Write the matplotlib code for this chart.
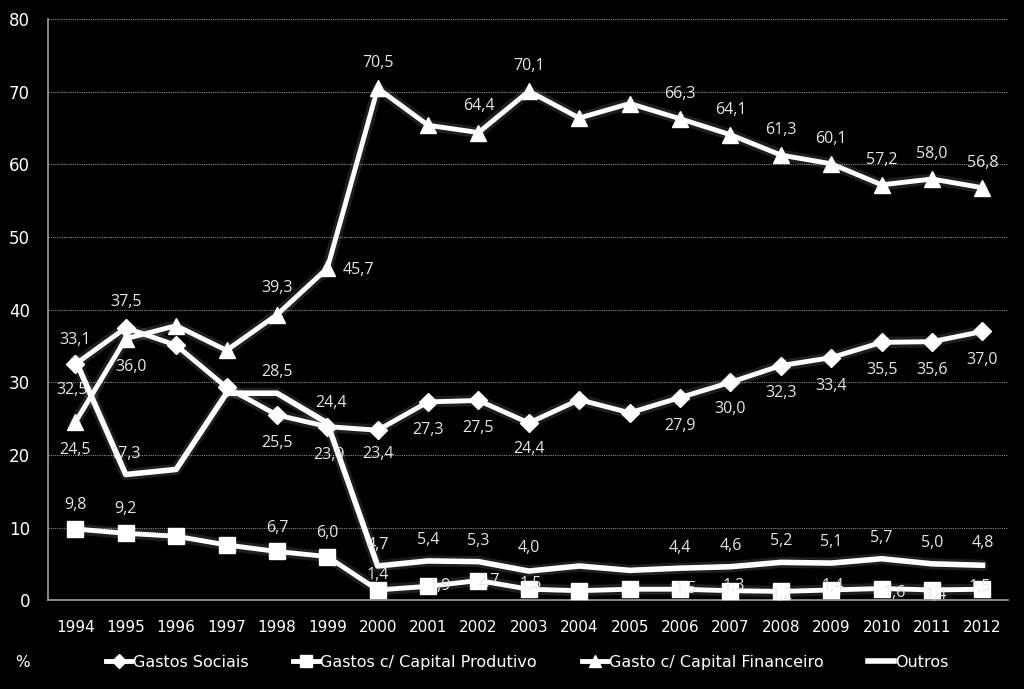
import matplotlib.pyplot as plt
import numpy as np

anos = [str(a) for a in range(1994, 2013)]

sociais = [32.5, 37.5, 35.1, 29.3, 25.5, 23.9, 23.4, 27.3, 27.5, 24.4,
           27.6, 25.8, 27.9, 30.0, 32.3, 33.4, 35.5, 35.6, 37.0]
produtivo = [9.8, 9.2, 8.8, 7.6, 6.7, 6.0, 1.4, 1.9, 2.7, 1.5,
             1.3, 1.5, 1.5, 1.3, 1.2, 1.4, 1.6, 1.4, 1.5]
financeiro = [24.5, 36.0, 37.8, 34.4, 39.3, 45.7, 70.5, 65.4, 64.4, 70.1,
              66.4, 68.4, 66.3, 64.1, 61.3, 60.1, 57.2, 58.0, 56.8]
outros = [33.1, 17.3, 18.0, 28.5, 28.5, 24.4, 4.7, 5.4, 5.3, 4.0,
          4.7, 4.1, 4.4, 4.6, 5.2, 5.1, 5.7, 5.0, 4.8]

# labelled points and their offsets in pixels (dx, dy)
lab_sociais = {0: (-3, -26), 1: (0, 26), 4: (0, -28), 5: (2, -28), 6: (0, -24),
               7: (0, -28), 8: (0, -28), 9: (0, -26), 12: (0, -28), 13: (0, -27),
               14: (0, -27), 15: (0, -28), 16: (0, -28), 17: (0, -28), 18: (0, -29)}
lab_produtivo = {0: (0, 24), 1: (0, 24), 4: (0, 23), 5: (0, 24), 6: (0, 15),
                 7: (12, 0), 8: (10, 0), 9: (2, 5), 12: (6, 0), 13: (3, 5),
                 14: (1, -4), 15: (1, 4), 16: (13, -4), 17: (4, -5), 18: (-3, 2)}
lab_financeiro = {0: (0, -28), 1: (5, -28), 4: (0, 27), 5: (31, -2), 6: (0, 25),
                  8: (0, 27), 9: (0, 25), 12: (0, 25), 13: (0, 25), 14: (0, 25),
                  15: (0, 25), 16: (0, 25), 17: (0, 25), 18: (0, 25)}
lab_outros = {0: (0, 20), 1: (0, 21), 4: (0, 21), 5: (4, 20), 6: (0, 21),
              7: (0, 21), 8: (0, 21), 9: (0, 23), 12: (0, 20), 13: (0, 21),
              14: (0, 21), 15: (0, 21), 16: (0, 21), 17: (0, 21), 18: (0, 22)}

x = np.arange(len(anos))

fig = plt.figure(figsize=(10.24, 6.89), dpi=100, facecolor='black')
ax = fig.add_axes([0.047, 0.129, 0.937, 0.843])
ax.set_facecolor('black')

# soft glow under the lines
for serie in [sociais, produtivo, financeiro, outros]:
    ax.plot(x, serie, color='white', lw=8, alpha=0.12, zorder=2, solid_capstyle='round')

l1, = ax.plot(x, sociais, color='white', lw=3.5, marker='D', ms=9, mec='white', zorder=3)
l2, = ax.plot(x, produtivo, color='white', lw=3.5, marker='s', ms=12, mec='white', zorder=3)
l3, = ax.plot(x, financeiro, color='white', lw=3.5, marker='^', ms=12, mec='white', zorder=3)
l4, = ax.plot(x, outros, color='white', lw=4, zorder=3)

for serie, labs in [(sociais, lab_sociais), (produtivo, lab_produtivo),
                    (financeiro, lab_financeiro), (outros, lab_outros)]:
    for i, (dx, dy) in labs.items():
        ax.annotate(f'{serie[i]:.1f}'.replace('.', ','), (x[i], serie[i]),
                    xytext=(dx * 0.72, dy * 0.72), textcoords='offset points',
                    ha='center', va='center', color='#e6e6e6', fontsize=11.5,
                    family='Open Sans', zorder=4)

ax.set_xlim(-0.54, 18.5)
ax.set_ylim(0, 80)
ax.set_yticks(range(0, 81, 10))
ax.set_xticks(x)
ax.set_xticklabels(anos)
ax.tick_params(colors='white', labelsize=11, length=0)
ax.tick_params(axis='y', pad=13, labelsize=12)
ax.tick_params(axis='x', pad=14)
ax.yaxis.grid(True, color='#8a8a8a', lw=0.8, ls=(0, (1, 1)))
ax.set_axisbelow(True)
for s in ['top', 'right']:
    ax.spines[s].set_visible(False)
for s in ['left', 'bottom']:
    ax.spines[s].set_color('#a0a0a0')
    ax.spines[s].set_linewidth(1.2)

leg = fig.legend([l1, l2, l3, l4],
                 ['Gastos Sociais', 'Gastos c/ Capital Produtivo',
                  'Gasto c/ Capital Financeiro', 'Outros'],
                 loc='center', bbox_to_anchor=(0.515, 0.039), ncol=4, frameon=False,
                 handlelength=1.6, handletextpad=0.1, columnspacing=2.8,
                 prop={'size': 11.5}, markerscale=0.75)
for t in leg.get_texts():
    t.set_color('white')
fig.text(0.015, 0.039, '%', color='white', fontsize=11, va='center')

fig.savefig('out.png', dpi=100, facecolor='black')
